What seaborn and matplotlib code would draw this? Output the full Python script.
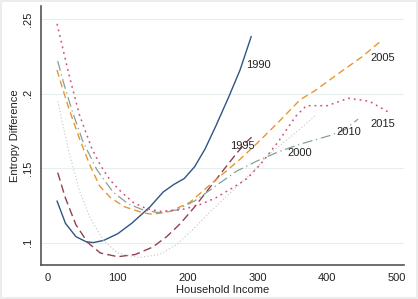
import pandas as pd
import matplotlib.pyplot as plt
import seaborn as sns

# entropy difference by household income, one curve per year
years = ['1990', '1995', '2000', '2005', '2010', '2015']

income_1990 = [13, 25, 40, 55, 65, 80, 100, 120, 146, 165, 180, 195, 210, 225, 240, 258, 275, 291]
entropy_1990 = [0.128, 0.113, 0.104, 0.1005, 0.100, 0.1015, 0.106, 0.113, 0.124, 0.134, 0.139,
                0.143, 0.151, 0.163, 0.178, 0.197, 0.216, 0.2385]

income_1995 = [14, 25, 40, 57, 75, 100, 125, 150, 170, 190, 210, 230, 250, 270, 285, 292]
entropy_1995 = [0.147, 0.130, 0.112, 0.100, 0.093, 0.0905, 0.092, 0.097, 0.104, 0.113, 0.124,
                0.136, 0.148, 0.160, 0.168, 0.171]

income_2000 = [14, 22, 30, 45, 60, 80, 100, 130, 160, 185, 210, 235, 260, 290, 318, 350, 382]
entropy_2000 = [0.195, 0.178, 0.161, 0.135, 0.117, 0.101, 0.093, 0.090, 0.092, 0.099, 0.110,
                0.122, 0.133, 0.146, 0.160, 0.172, 0.185]

income_2005 = [13, 20, 30, 45, 60, 74, 90, 110, 136, 150, 175, 203, 230, 255, 275, 300, 330,
               361, 382, 420, 450, 478]
entropy_2005 = [0.216, 0.205, 0.190, 0.170, 0.152, 0.138, 0.130, 0.124, 0.120, 0.119, 0.121,
                0.127, 0.138, 0.148, 0.156, 0.167, 0.181, 0.196, 0.202, 0.215, 0.225, 0.236]

income_2010 = [14, 22, 35, 50, 70, 93, 115, 136, 160, 185, 210, 240, 270, 300, 330, 360, 404,
               425, 444]
entropy_2010 = [0.222, 0.208, 0.188, 0.168, 0.149, 0.134, 0.126, 0.122, 0.120, 0.122, 0.128,
                0.138, 0.148, 0.155, 0.161, 0.166, 0.172, 0.176, 0.183]

income_2015 = [13, 20, 30, 45, 63, 75, 89, 105, 122, 140, 160, 190, 215, 240, 265, 285, 305,
               330, 355, 370, 385, 400, 430, 460, 490]
entropy_2015 = [0.247, 0.233, 0.213, 0.186, 0.163, 0.152, 0.142, 0.134, 0.127, 0.123, 0.121,
                0.122, 0.125, 0.130, 0.137, 0.143, 0.153, 0.168, 0.185, 0.192, 0.192, 0.192,
                0.197, 0.195, 0.187]

# label positions next to the curves
label_x = [301, 279, 361, 480, 431, 480]
label_y = [0.2196, 0.165, 0.160, 0.2243, 0.1743, 0.1797]

incomes = [income_1990, income_1995, income_2000, income_2005, income_2010, income_2015]
entropies = [entropy_1990, entropy_1995, entropy_2000, entropy_2005, entropy_2010, entropy_2015]

rows = []
for yr, xs, ys in zip(years, incomes, entropies):
    for x, y in zip(xs, ys):
        rows.append({'year': yr, 'income': x, 'entropy': y})
df = pd.DataFrame(rows)

colors = {'1990': '#2f5582', '1995': '#93404c', '2000': '#c0c6bf',
          '2005': '#e8962e', '2010': '#86a098', '2015': '#cf4f80'}
dashes = {'1990': (None, None), '1995': (0, (6, 3)), '2000': (0, (1, 2)),
          '2005': (0, (5, 3)), '2010': (0, (8, 3, 1, 3)), '2015': (0, (1.2, 2.6))}
widths = {'1990': 1.0, '1995': 1.0, '2000': 0.8, '2005': 1.0, '2010': 0.9, '2015': 1.1}

sns.set_style('white')
plt.rcParams['font.family'] = ['Liberation Sans', 'DejaVu Sans']

fig = plt.figure(figsize=(4.18, 2.99), dpi=100)
fig.patch.set_facecolor('white')
fig.patches.append(plt.Rectangle((0.003, 0.004), 0.994, 0.992, transform=fig.transFigure,
                                 fill=False, edgecolor='#ececec', linewidth=1.5))
ax = fig.add_axes([0.098, 0.114, 0.869, 0.866])

for yr in years:
    sub = df[df.year == yr]
    sns.lineplot(data=sub, x='income', y='entropy', color=colors[yr],
                 linewidth=widths[yr], ax=ax, legend=False, sort=False)
    ls = dashes[yr]
    if ls[0] is not None:
        ax.lines[-1].set_linestyle(ls)

for yr, lx, ly in zip(years, label_x, label_y):
    ax.text(lx, ly, yr, fontsize=8, ha='center', va='center', color='#222222')

ax.set_xlim(-10, 510)
ax.set_ylim(0.085, 0.259)
ax.set_xticks([0, 100, 200, 300, 400, 500])
ax.set_yticks([0.1, 0.15, 0.2, 0.25])
ax.set_yticklabels(['.1', '.15', '.2', '.25'], rotation=90, va='center')
ax.tick_params(axis='both', labelsize=8, direction='out', length=4, width=0.8,
               color='#555555', labelcolor='#222222', pad=2)
ax.set_xlabel('Household Income', fontsize=8, color='#222222', labelpad=1)
ax.set_ylabel('Entropy Difference', fontsize=8, color='#222222', labelpad=2)

ax.grid(axis='y', color='#e6eef0', linewidth=0.8)
ax.set_axisbelow(True)
for side in ['top', 'right']:
    ax.spines[side].set_visible(False)
for side in ['left', 'bottom']:
    ax.spines[side].set_color('#555555')
    ax.spines[side].set_linewidth(1.2)

fig.savefig('out.png', dpi=100)
